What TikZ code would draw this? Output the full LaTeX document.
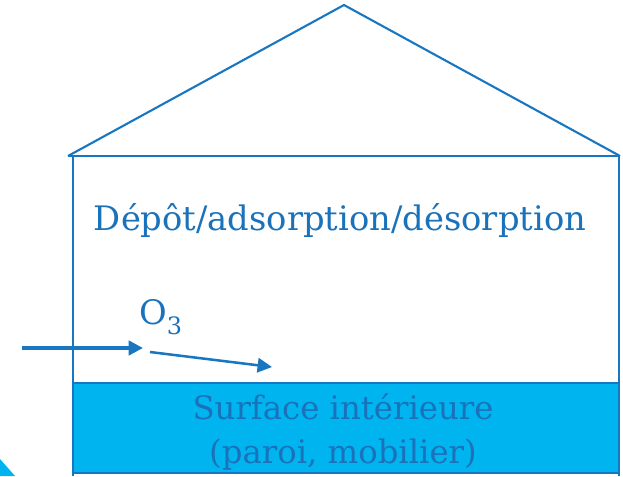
\documentclass[tikz,border=0pt]{standalone}
\usepackage{fontspec}
\setmainfont{DejaVu Serif}
\usetikzlibrary{arrows.meta, positioning, calc}

\definecolor{wallblue}{HTML}{1877C0}
\definecolor{textblue}{HTML}{1A72BA}
\definecolor{surfcyan}{HTML}{00B4F0}

\begin{document}
\begin{tikzpicture}[
    x=0.025cm, y=-0.025cm,
    wall/.style={draw=wallblue, line width=1.5pt, line join=miter},
    label/.style={text=textblue, font=\fontsize{24}{31}\selectfont,
        inner sep=0pt, align=center},
    flow/.style={-{Triangle[length=0.36cm, width=0.36cm]}, draw=wallblue}
]
\useasboundingbox (0,0) rectangle (623,476);

% Corner points of the house
\coordinate (eaveL) at (68,156);
\coordinate (eaveR) at (620,156);
\coordinate (apex)  at (344,5);

% Roof and walls
\draw[wall] (eaveL) -- (apex) -- (eaveR);
\draw[wall, line width=2pt] (eaveL) -- (eaveR);
\draw[wall] (73,156) -- (73,476);
\draw[wall] (619,156) -- (619,476);

% Interior surface band
\draw[wall, fill=surfcyan] (73,383) rectangle (619,473);
\node[label, font=\fontsize{23}{31}\selectfont] (surface) at (343,432)
    {Surface intérieure\\(paroi, mobilier)};

% Process label
\node[label] (process) at (340,221) {Dépôt/adsorption/désorption};

% Ozone entering and moving to the surface
\node[label, anchor=base west] (ozone) at (139,324)
    {O\raisebox{-0.3em}{\fontsize{17}{17}\selectfont 3}};
\coordinate (inlet)  at (22,348);
\coordinate (inside) at (143,348);
\coordinate (start)  at (150,352);
\coordinate (target) at (272,367);
\draw[flow, line width=2.4pt] (inlet) -- (inside);
\draw[flow, line width=1.8pt] (start) -- (target);

% Fragment at the lower left corner
\fill[surfcyan] (0,459) -- (15,476) -- (0,476) -- cycle;
\end{tikzpicture}
\end{document}
